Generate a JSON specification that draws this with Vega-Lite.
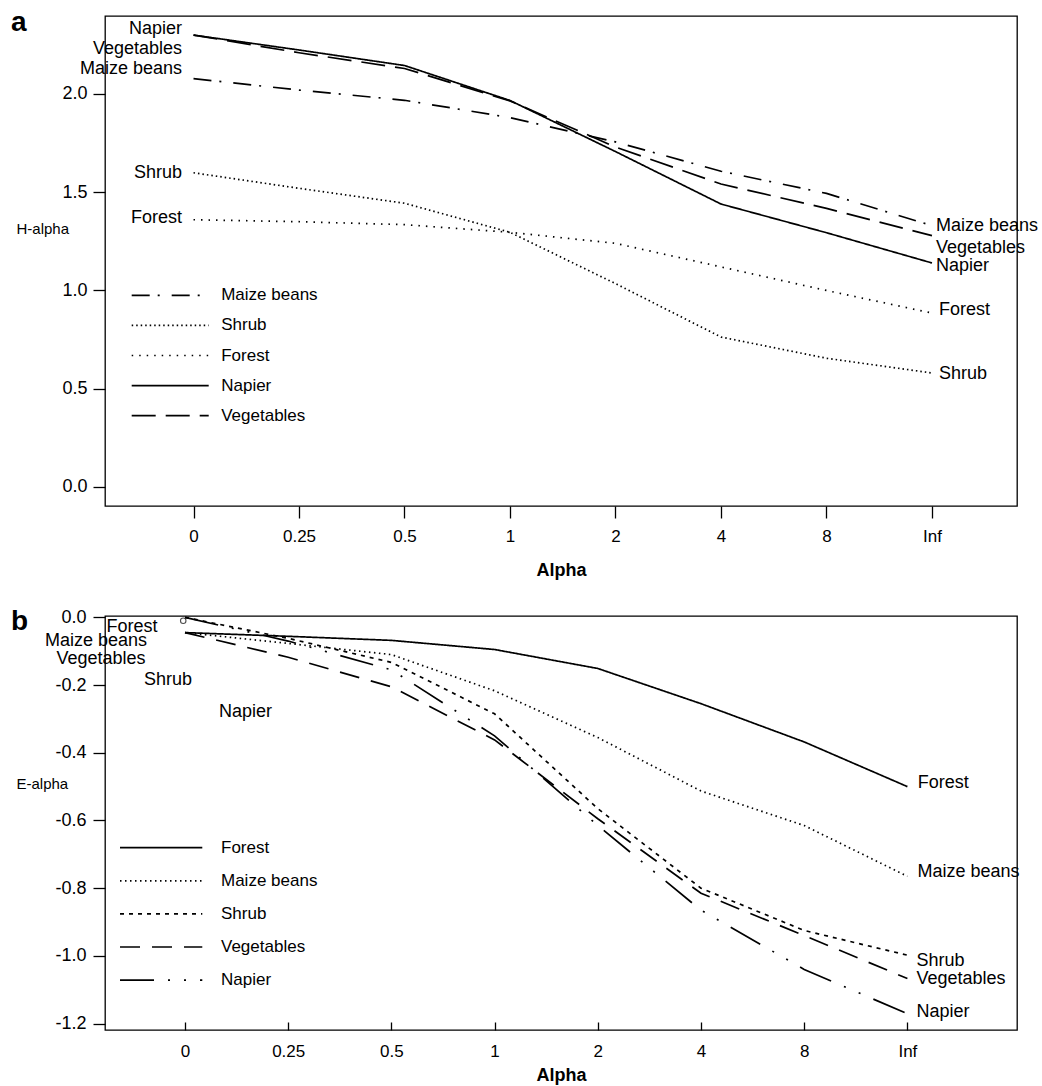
{
  "$schema": "https://vega.github.io/schema/vega-lite/v6.json",
  "padding": {"left": 10, "top": 8, "right": 0, "bottom": 0},
  "background": "white",
  "config": {
    "font": "Liberation Sans",
    "view": {"stroke": "black", "strokeWidth": 1.3},
    "axis": {"domain": false, "grid": false, "tickColor": "black", "labelColor": "black", "titleColor": "black", "tickWidth": 1.3, "labelFont": "Liberation Sans", "titleFont": "Liberation Sans", "labelOverlap": false, "labelFlush": false},
    "text": {"font": "Liberation Sans", "color": "black"},
    "title": {"font": "Liberation Sans", "color": "black"},
    "concat": {"spacing": 27}
  },
  "datasets": {
    "H": [
      {"series": "Napier", "alpha": "0", "pos": 0, "value": 2.300},
      {"series": "Napier", "alpha": "0.25", "pos": 1, "value": 2.224},
      {"series": "Napier", "alpha": "0.5", "pos": 2, "value": 2.145},
      {"series": "Napier", "alpha": "1", "pos": 3, "value": 1.967},
      {"series": "Napier", "alpha": "2", "pos": 4, "value": 1.707},
      {"series": "Napier", "alpha": "4", "pos": 5, "value": 1.440},
      {"series": "Napier", "alpha": "8", "pos": 6, "value": 1.294},
      {"series": "Napier", "alpha": "Inf", "pos": 7, "value": 1.140},
      {"series": "Vegetables", "alpha": "0", "pos": 0, "value": 2.300},
      {"series": "Vegetables", "alpha": "0.25", "pos": 1, "value": 2.210},
      {"series": "Vegetables", "alpha": "0.5", "pos": 2, "value": 2.130},
      {"series": "Vegetables", "alpha": "1", "pos": 3, "value": 1.965},
      {"series": "Vegetables", "alpha": "2", "pos": 4, "value": 1.730},
      {"series": "Vegetables", "alpha": "4", "pos": 5, "value": 1.542},
      {"series": "Vegetables", "alpha": "8", "pos": 6, "value": 1.418},
      {"series": "Vegetables", "alpha": "Inf", "pos": 7, "value": 1.279},
      {"series": "Maize beans", "alpha": "0", "pos": 0, "value": 2.078},
      {"series": "Maize beans", "alpha": "0.25", "pos": 1, "value": 2.020},
      {"series": "Maize beans", "alpha": "0.5", "pos": 2, "value": 1.968},
      {"series": "Maize beans", "alpha": "1", "pos": 3, "value": 1.880},
      {"series": "Maize beans", "alpha": "2", "pos": 4, "value": 1.756},
      {"series": "Maize beans", "alpha": "4", "pos": 5, "value": 1.607},
      {"series": "Maize beans", "alpha": "8", "pos": 6, "value": 1.494},
      {"series": "Maize beans", "alpha": "Inf", "pos": 7, "value": 1.330},
      {"series": "Shrub", "alpha": "0", "pos": 0, "value": 1.599},
      {"series": "Shrub", "alpha": "0.25", "pos": 1, "value": 1.520},
      {"series": "Shrub", "alpha": "0.5", "pos": 2, "value": 1.444},
      {"series": "Shrub", "alpha": "1", "pos": 3, "value": 1.296},
      {"series": "Shrub", "alpha": "2", "pos": 4, "value": 1.035},
      {"series": "Shrub", "alpha": "4", "pos": 5, "value": 0.763},
      {"series": "Shrub", "alpha": "8", "pos": 6, "value": 0.655},
      {"series": "Shrub", "alpha": "Inf", "pos": 7, "value": 0.580},
      {"series": "Forest", "alpha": "0", "pos": 0, "value": 1.360},
      {"series": "Forest", "alpha": "0.25", "pos": 1, "value": 1.350},
      {"series": "Forest", "alpha": "0.5", "pos": 2, "value": 1.335},
      {"series": "Forest", "alpha": "1", "pos": 3, "value": 1.296},
      {"series": "Forest", "alpha": "2", "pos": 4, "value": 1.240},
      {"series": "Forest", "alpha": "4", "pos": 5, "value": 1.120},
      {"series": "Forest", "alpha": "8", "pos": 6, "value": 1.000},
      {"series": "Forest", "alpha": "Inf", "pos": 7, "value": 0.885}
    ],
    "HL": [
      {"label": "Napier", "side": "left", "pos": -0.109, "value": 2.331},
      {"label": "Vegetables", "side": "left", "pos": -0.109, "value": 2.229},
      {"label": "Maize beans", "side": "left", "pos": -0.109, "value": 2.127},
      {"label": "Shrub", "side": "left", "pos": -0.109, "value": 1.598},
      {"label": "Forest", "side": "left", "pos": -0.109, "value": 1.369},
      {"label": "Maize beans", "side": "right", "pos": 7.038, "value": 1.328},
      {"label": "Vegetables", "side": "right", "pos": 7.038, "value": 1.218},
      {"label": "Napier", "side": "right", "pos": 7.038, "value": 1.125},
      {"label": "Forest", "side": "right", "pos": 7.066, "value": 0.901},
      {"label": "Shrub", "side": "right", "pos": 7.066, "value": 0.574}
    ],
    "E": [
      {"series": "Forest", "alpha": "0", "pos": 0, "value": -0.045},
      {"series": "Forest", "alpha": "0.25", "pos": 1, "value": -0.056},
      {"series": "Forest", "alpha": "0.5", "pos": 2, "value": -0.068},
      {"series": "Forest", "alpha": "1", "pos": 3, "value": -0.095},
      {"series": "Forest", "alpha": "2", "pos": 4, "value": -0.151},
      {"series": "Forest", "alpha": "4", "pos": 5, "value": -0.255},
      {"series": "Forest", "alpha": "8", "pos": 6, "value": -0.368},
      {"series": "Forest", "alpha": "Inf", "pos": 7, "value": -0.500},
      {"series": "Maize beans", "alpha": "0", "pos": 0, "value": -0.045},
      {"series": "Maize beans", "alpha": "0.25", "pos": 1, "value": -0.077},
      {"series": "Maize beans", "alpha": "0.5", "pos": 2, "value": -0.110},
      {"series": "Maize beans", "alpha": "1", "pos": 3, "value": -0.217},
      {"series": "Maize beans", "alpha": "2", "pos": 4, "value": -0.355},
      {"series": "Maize beans", "alpha": "4", "pos": 5, "value": -0.513},
      {"series": "Maize beans", "alpha": "8", "pos": 6, "value": -0.615},
      {"series": "Maize beans", "alpha": "Inf", "pos": 7, "value": -0.765},
      {"series": "Shrub", "alpha": "0", "pos": 0, "value": 0.0},
      {"series": "Shrub", "alpha": "0.25", "pos": 1, "value": -0.062},
      {"series": "Shrub", "alpha": "0.5", "pos": 2, "value": -0.133},
      {"series": "Shrub", "alpha": "1", "pos": 3, "value": -0.285},
      {"series": "Shrub", "alpha": "2", "pos": 4, "value": -0.565},
      {"series": "Shrub", "alpha": "4", "pos": 5, "value": -0.800},
      {"series": "Shrub", "alpha": "8", "pos": 6, "value": -0.925},
      {"series": "Shrub", "alpha": "Inf", "pos": 7, "value": -0.998},
      {"series": "Vegetables", "alpha": "0", "pos": 0, "value": -0.045},
      {"series": "Vegetables", "alpha": "0.25", "pos": 1, "value": -0.118},
      {"series": "Vegetables", "alpha": "0.5", "pos": 2, "value": -0.205},
      {"series": "Vegetables", "alpha": "1", "pos": 3, "value": -0.362},
      {"series": "Vegetables", "alpha": "2", "pos": 4, "value": -0.595},
      {"series": "Vegetables", "alpha": "4", "pos": 5, "value": -0.815},
      {"series": "Vegetables", "alpha": "8", "pos": 6, "value": -0.940},
      {"series": "Vegetables", "alpha": "Inf", "pos": 7, "value": -1.067},
      {"series": "Napier", "alpha": "0", "pos": 0, "value": 0.0},
      {"series": "Napier", "alpha": "0.25", "pos": 1, "value": -0.070},
      {"series": "Napier", "alpha": "0.5", "pos": 2, "value": -0.155},
      {"series": "Napier", "alpha": "1", "pos": 3, "value": -0.350},
      {"series": "Napier", "alpha": "2", "pos": 4, "value": -0.615},
      {"series": "Napier", "alpha": "4", "pos": 5, "value": -0.865},
      {"series": "Napier", "alpha": "8", "pos": 6, "value": -1.040},
      {"series": "Napier", "alpha": "Inf", "pos": 7, "value": -1.171}
    ],
    "EL": [
      {"label": "Forest", "side": "center", "pos": -0.514, "value": -0.028},
      {"label": "Maize beans", "side": "center", "pos": -0.862, "value": -0.069},
      {"label": "Vegetables", "side": "center", "pos": -0.814, "value": -0.123},
      {"label": "Shrub", "side": "center", "pos": -0.165, "value": -0.185},
      {"label": "Napier", "side": "center", "pos": 0.586, "value": -0.281},
      {"label": "Forest", "side": "right", "pos": 7.100, "value": -0.488},
      {"label": "Maize beans", "side": "right", "pos": 7.098, "value": -0.753},
      {"label": "Shrub", "side": "right", "pos": 7.088, "value": -1.014},
      {"label": "Vegetables", "side": "right", "pos": 7.088, "value": -1.069},
      {"label": "Napier", "side": "right", "pos": 7.088, "value": -1.165}
    ],
    "EP": [
      {"pos": -0.017, "value": -0.010}
    ]
  },
  "vconcat": [
    {
      "width": 912,
      "height": 490,
      "title": {"text": "a", "anchor": "start", "frame": "group", "orient": "top", "fontSize": 28, "fontWeight": "bold", "baseline": "alphabetic", "offset": -43, "dx": -94},
      "layer": [
        {
          "data": {"name": "H"},
          "mark": {"type": "line", "color": "black", "strokeWidth": 1.7},
          "encoding": {
            "x": {"field": "pos", "type": "quantitative",
              "scale": {"domain": [-0.839, 7.806], "nice": false, "zero": false},
              "axis": {"title": "Alpha", "titleFontWeight": "bold", "titleFontSize": 18, "labelFontSize": 17, "tickSize": 12, "labelPadding": 10, "titlePadding": 17,
                "values": [0, 1, 2, 3, 4, 5, 6, 7],
                "labelExpr": "['0','0.25','0.5','1','2','4','8','Inf'][datum.value]"}},
            "y": {"field": "value", "type": "quantitative",
              "scale": {"domain": [-0.097, 2.397], "nice": false, "zero": false},
              "axis": {"title": "H-alpha", "titleAngle": 0, "titleAlign": "left", "titleBaseline": "middle", "titleX": -89, "titleY": 212, "titleFontWeight": "normal", "titleFontSize": 15,
                "labelFontSize": 18, "tickSize": 12, "labelPadding": 6, "values": [0, 0.5, 1, 1.5, 2], "format": ".1f"}},
            "strokeDash": {"field": "series", "type": "nominal",
              "scale": {"domain": ["Maize beans", "Shrub", "Forest", "Napier", "Vegetables"],
                "range": [[18, 8, 2, 12], [1.5, 3], [1.5, 6], [1, 0], [24, 10]]},
              "legend": {"title": null, "orient": "none", "legendX": 49.2, "legendY": 263.3, "padding": 0, "symbolType": "M-2.567,0H2.567", "symbolSize": 900, "symbolStrokeWidth": 1.7, "symbolStrokeColor": "black", "symbolFillColor": "transparent", "labelFontSize": 17, "labelOffset": 35, "rowPadding": 6.1, "labelColor": "black"}}
          }
        },
        {
          "data": {"name": "HL"},
          "transform": [{"filter": "datum.side == 'left'"}],
          "mark": {"type": "text", "align": "right", "baseline": "middle", "fontSize": 18},
          "encoding": {
            "x": {"field": "pos", "type": "quantitative"},
            "y": {"field": "value", "type": "quantitative"},
            "text": {"field": "label"}
          }
        },
        {
          "data": {"name": "HL"},
          "transform": [{"filter": "datum.side == 'right'"}],
          "mark": {"type": "text", "align": "left", "baseline": "middle", "fontSize": 18},
          "encoding": {
            "x": {"field": "pos", "type": "quantitative"},
            "y": {"field": "value", "type": "quantitative"},
            "text": {"field": "label"}
          }
        }
      ]
    },
    {
      "width": 912,
      "height": 414,
      "title": {"text": "b", "anchor": "start", "frame": "group", "orient": "top", "fontSize": 28, "fontWeight": "bold", "baseline": "alphabetic", "offset": -49.7, "dx": -94},
      "layer": [
        {
          "data": {"name": "E"},
          "mark": {"type": "line", "color": "black", "strokeWidth": 1.7},
          "encoding": {
            "x": {"field": "pos", "type": "quantitative",
              "scale": {"domain": [-0.775, 8.062], "nice": false, "zero": false},
              "axis": {"title": "Alpha", "titleFontWeight": "bold", "titleFontSize": 18, "labelFontSize": 17, "tickSize": -8, "labelPadding": 21, "titlePadding": 7,
                "values": [0, 1, 2, 3, 4, 5, 6, 7],
                "labelExpr": "['0','0.25','0.5','1','2','4','8','Inf'][datum.value]"}},
            "y": {"field": "value", "type": "quantitative",
              "scale": {"domain": [-1.219, 0.004], "nice": false, "zero": false},
              "axis": {"title": "E-alpha", "titleAngle": 0, "titleAlign": "left", "titleBaseline": "middle", "titleX": -89, "titleY": 167, "titleFontWeight": "normal", "titleFontSize": 15,
                "labelFontSize": 18, "tickSize": 12, "labelPadding": 7, "values": [0, -0.2, -0.4, -0.6, -0.8, -1.0, -1.2],
                "labelExpr": "(datum.value < 0 ? '-' : '') + format(abs(datum.value), '.1f')"}},
            "strokeDash": {"field": "series", "type": "nominal",
              "scale": {"domain": ["Forest", "Maize beans", "Shrub", "Vegetables", "Napier"],
                "range": [[1, 0], [1.5, 3.5], [4, 5], [20, 12], [34, 14, 2, 14, 2, 14]]},
              "legend": {"title": null, "orient": "none", "legendX": 40.15, "legendY": 215.7, "padding": 0, "symbolType": "M-2.743,0H2.743", "symbolSize": 900, "symbolStrokeWidth": 1.7, "symbolStrokeColor": "black", "symbolFillColor": "transparent", "labelFontSize": 17, "labelOffset": 43.85, "rowPadding": 9.1, "labelColor": "black"}}
          }
        },
        {
          "data": {"name": "EL"},
          "transform": [{"filter": "datum.side == 'center'"}],
          "mark": {"type": "text", "align": "center", "baseline": "middle", "fontSize": 18},
          "encoding": {
            "x": {"field": "pos", "type": "quantitative"},
            "y": {"field": "value", "type": "quantitative"},
            "text": {"field": "label"}
          }
        },
        {
          "data": {"name": "EL"},
          "transform": [{"filter": "datum.side == 'right'"}],
          "mark": {"type": "text", "align": "left", "baseline": "middle", "fontSize": 18},
          "encoding": {
            "x": {"field": "pos", "type": "quantitative"},
            "y": {"field": "value", "type": "quantitative"},
            "text": {"field": "label"}
          }
        },
        {
          "data": {"name": "EP"},
          "mark": {"type": "point", "shape": "circle", "filled": false, "color": "black", "size": 30, "strokeWidth": 1.1},
          "encoding": {
            "x": {"field": "pos", "type": "quantitative"},
            "y": {"field": "value", "type": "quantitative"}
          }
        }
      ]
    }
  ],
  "resolve": {
    "scale": {"x": "independent", "y": "independent", "strokeDash": "independent"},
    "axis": {"x": "independent", "y": "independent"},
    "legend": {"strokeDash": "independent"}
  }
}
